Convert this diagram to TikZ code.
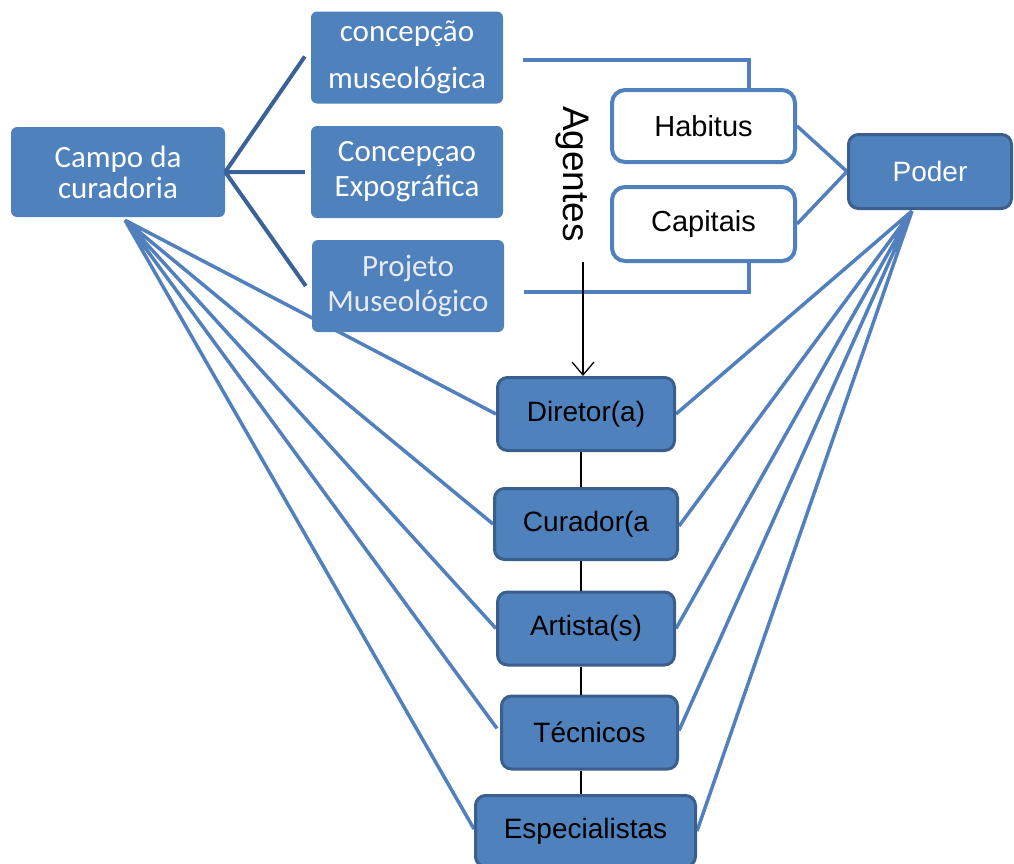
\documentclass[tikz,border=0pt]{standalone}
\usepackage{fontspec}
\setmainfont{Liberation Sans}
\newfontfamily\calib{Carlito}
\usetikzlibrary{arrows.meta}
\pgfdeclarelayer{behind}
\pgfsetlayers{behind,main}
\definecolor{boxblue}{RGB}{79,129,189}
\definecolor{boxedge}{RGB}{58,95,140}
\definecolor{branch}{RGB}{58,98,152}
\definecolor{fanblue}{RGB}{82,128,188}
\definecolor{paletext}{RGB}{232,234,242}
\begin{document}
\begin{tikzpicture}[x=1pt,y=-1pt,
  cbox/.style={fill=boxblue, rounded corners=6pt, inner sep=0pt, minimum width=192pt, minimum height=92pt, text=white, font=\calib\fontsize{31}{35}\selectfont, align=center},
  abox/.style={fill=boxblue, draw=boxedge, line width=3pt, rounded corners=10pt, inner sep=0pt, minimum height=73pt, font=\fontsize{28}{32}\selectfont, text=black},
  wbox/.style={fill=white, draw=boxblue, line width=4pt, rounded corners=13pt, minimum width=183pt, inner sep=0pt, font=\fontsize{29}{32}\selectfont, text=black},
  fan/.style={draw=fanblue, line width=3.5pt},
  branchline/.style={draw=branch, line width=4pt},
  bracket/.style={draw=fanblue, line width=4pt},
  thinline/.style={draw=black, line width=1.3pt}]
\useasboundingbox (0,0) rectangle (1014,863);

% agent boxes
\node[abox, minimum width=177pt] (dir) at (586,414) {Diretor(a)};
\node[abox, minimum width=183pt, minimum height=71pt] (cur) at (586,524) {Curador(a};
\node[abox, minimum width=177pt] (art) at (586,628.5) {Artista(s)};
\node[abox, minimum width=176pt] (tec) at (589.5,732.5) {Técnicos};
\node[abox, minimum width=220pt, minimum height=71pt] (esp) at (585.5,831) {Especialistas};

% top-left boxes
\node[cbox, minimum width=214pt, minimum height=90pt, font=\calib\fontsize{31}{31}\selectfont] (campo) at (118,172) {Campo da\\curadoria};
\node[cbox, font=\calib\fontsize{31}{47}\selectfont] (c1) at (407,57.5) {concepção\\museológica};
\node[cbox] (c2) at (407,172) {Concepçao\\Expográfica};
\node[cbox, text=paletext] (proj) at (408,286) {Projeto\\Museológico};

% Habitus / Capitais / Poder
\node[wbox, minimum height=72pt] (hab) at (703.5,126) {Habitus};
\node[wbox, minimum height=74pt] (cap) at (703.5,224) {Capitais};
\node[abox, minimum width=163pt, minimum height=74pt, text=white] (poder) at (930,171.5) {Poder};

% Agentes
\node[rotate=-90, font=\fontsize{37}{40}\selectfont, inner sep=0pt] (agentes) at (572,174) {Agentes};

\coordinate (cf) at ([xshift=7pt,yshift=-3pt]campo.south);
\coordinate (pf) at ([xshift=-18pt,yshift=-1pt]poder.south);
\coordinate (agtail) at (583,262);

\begin{pgfonlayer}{behind}
\path[fan] (cf) -- (dir.west) (cf) -- (cur.west) (cf) -- (art.west)
  (cf) -- ([xshift=-3pt,yshift=4pt]tec.west) (cf) -- ([yshift=2pt]esp.west);
\path[fan] (pf) -- (dir.east) (pf) -- ([yshift=-2pt]cur.east) (pf) -- (art.east)
  (pf) -- ([yshift=2pt]tec.east) (pf) -- (esp.east);
\path[fan] (hab.east) -- (poder.west) (cap.east) -- (poder.west);
\end{pgfonlayer}

\path[branchline] (campo.east) -- ([xshift=-6pt,yshift=1pt]c1.west)
  (campo.east) -- ([xshift=-6pt]c2.west)
  (campo.east) -- ([xshift=-6pt]proj.west);

\path[bracket] ([xshift=20pt,yshift=-2pt]c1.east) -| ([xshift=45pt]hab.north);
\path[bracket] ([xshift=20pt,yshift=-6pt]proj.east) -| ([xshift=45pt]cap.south);

\draw[thinline, -{Straight Barb[length=13pt,width=22pt,line width=1.3pt]}] (agtail) -- (agtail |- dir.north);

% vertical links between agents
\draw[thinline] ([xshift=-5pt]dir.south) -- ([xshift=-5pt]dir.south |- cur.north);
\draw[thinline] ([xshift=-5pt]cur.south) -- ([xshift=-5pt]cur.south |- art.north);
\draw[thinline] ([xshift=-5pt]art.south) -- ([xshift=-5pt]art.south |- tec.north);
\draw[thinline] ([xshift=-5pt]dir.south |- tec.south) -- ([xshift=-5pt]dir.south |- esp.north);
\end{tikzpicture}
\end{document}
